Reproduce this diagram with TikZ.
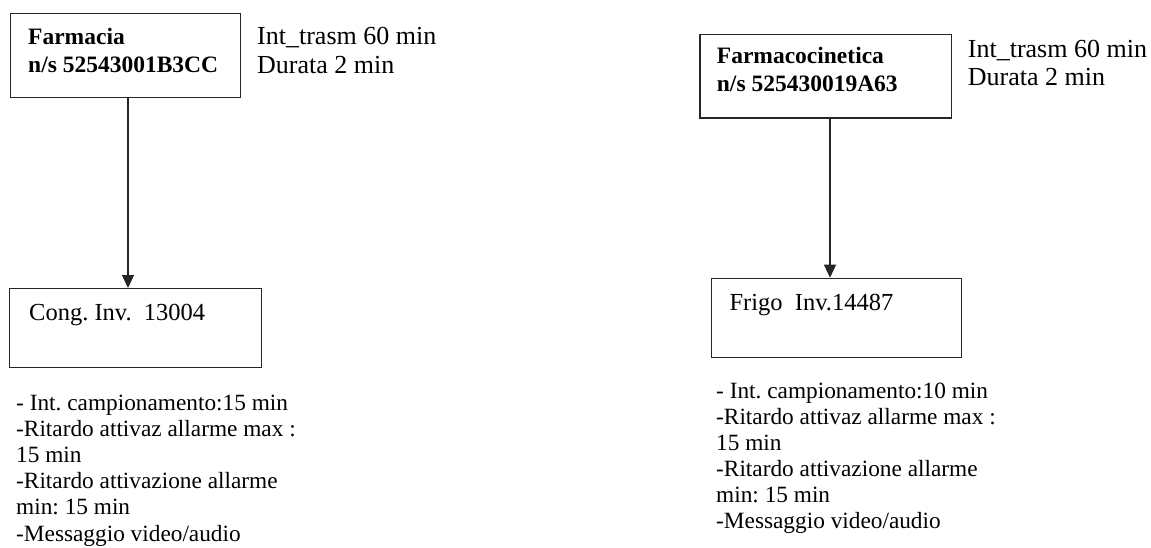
\documentclass[tikz,border=0pt]{standalone}
\usepackage{fontspec}
\setmainfont{Liberation Serif}
\frenchspacing
\usetikzlibrary{arrows.meta}
\tikzset{
  box/.style={draw=black!85, line width=1.4pt, inner sep=0pt, anchor=north west},
  title/.style={font=\fontsize{23.5}{27.5}\selectfont\bfseries, anchor=base west, inner sep=0pt, align=left},
  side/.style={font=\fontsize{26}{28.5}\selectfont, anchor=base west, inner sep=0pt, align=left},
  inbox/.style={font=\fontsize{24.5}{27}\selectfont, anchor=base west, inner sep=0pt},
  list/.style={font=\fontsize{23.3}{26.1}\selectfont, anchor=base west, inner sep=0pt, align=left},
  arr/.style={line width=1.4pt, draw=black!85, -{Triangle[width=12pt,length=13pt]}}
}
\begin{document}
\begin{tikzpicture}[x=1pt,y=-1pt]
\useasboundingbox (0,0) rectangle (1151,547);
% left column (anchors are at the baseline of the last line)
\node[box, minimum width=230pt, minimum height=84pt] (A) at (9.5,13) {};
\node[title] (At) at (28,72) {Farmacia\\n/s 52543001B3CC};
\node[side] (As) at (257,73) {Int\_trasm 60 min\\Durata 2 min};
\node[box, minimum width=252pt, minimum height=79pt] (B) at (9,288) {};
\node[inbox] (Bt) at (29,320) {Cong. Inv.\ \ 13004};
\node[list] (Bl) at (16,541) {- Int. campionamento:15 min\\-Ritardo attivaz allarme max :\\15 min\\-Ritardo attivazione allarme\\min: 15 min\\-Messaggio video/audio};
\coordinate (ax) at (128,0);
\draw[arr] (A.south -| ax) -- (B.north -| ax);
% right column
\node[box, minimum width=251.5pt, minimum height=83.5pt] (C) at (699.3,33.7) {};
\node[title] (Ct) at (716.7,91) {Farmacocinetica\\n/s 525430019A63};
\node[side] (Cs) at (967.7,85.5) {Int\_trasm 60 min\\Durata 2 min};
\node[box, minimum width=250pt, minimum height=79pt] (D) at (710.7,277.7) {};
\node[inbox] (Dt) at (729.3,310) {Frigo\ \ Inv.14487};
\node[list] (Dl) at (716,528.5) {- Int. campionamento:10 min\\-Ritardo attivaz allarme max :\\15 min\\-Ritardo attivazione allarme\\min: 15 min\\-Messaggio video/audio};
\coordinate (cx) at (830,0);
\draw[arr] (C.south -| cx) -- (D.north -| cx);
\end{tikzpicture}
\end{document}
